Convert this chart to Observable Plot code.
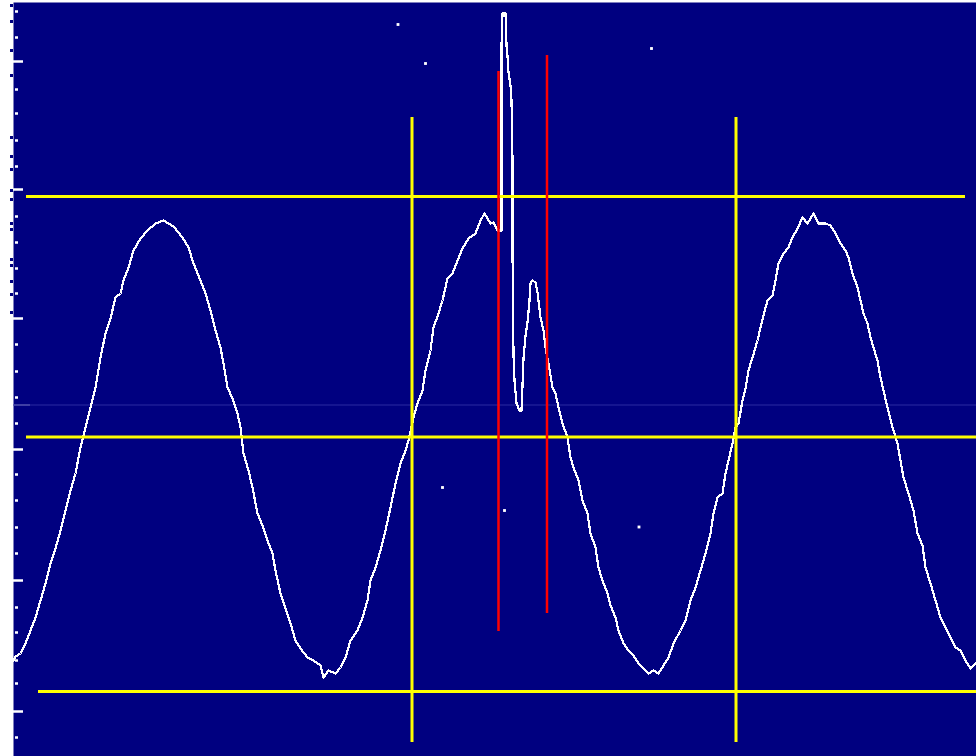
<!DOCTYPE html>
<html>
<head>
<meta charset="utf-8">
<script src="https://cdn.jsdelivr.net/npm/d3@7"></script>
<script src="https://cdn.jsdelivr.net/npm/@observablehq/plot@0.6"></script>
<style>
  html, body { margin: 0; padding: 0; background: #ffffff; }
  #chart svg { display: block; }
</style>
</head>
<body>
<div id="chart"></div>
<script>
// Signal trace: sample index (t) and amplitude (v)
const sampleT = [0,2,7,12,17,22,27,32,37,42,47,52,57,62,67,72,77,82,87,92,97,102,107,110,115,120,127,134,142,150,160,169,175,180,187,192,197,202,207,210,214,219,224,227,230,235,239,244,249,254,259,262,267,272,277,282,287,294,300,307,310,315,322,327,332,337,344,349,354,357,362,367,372,377,382,387,392,395,400,404,409,412,417,420,425,429,434,439,444,449,455,462,467,471,474,477,480,484,488,488,489,492,493,494,495,497,498,499,499,500,501,503,506,508,509,510,512,514,516,517,519,522,524,527,530,532,535,539,542,545,549,554,557,560,565,569,574,577,582,585,589,594,597,602,605,610,615,620,625,630,635,640,645,650,655,660,667,672,677,682,687,692,697,700,704,709,712,715,719,722,725,729,732,735,739,744,747,750,754,759,762,765,770,775,779,784,789,794,800,805,812,817,822,827,832,835,839,844,847,850,854,857,860,864,867,870,874,879,884,887,890,895,900,904,909,912,917,922,927,932,937,942,947,952,957,962];
const sampleV = [-213,-209,-206,-196,-183,-170,-153,-136,-116,-101,-83,-63,-43,-26,0,20,40,60,90,114,129,150,154,167,180,197,209,217,224,227,221,210,200,184,167,154,137,117,100,84,60,49,34,20,-6,-23,-40,-66,-78,-93,-106,-123,-146,-161,-176,-193,-201,-210,-213,-218,-230,-223,-226,-220,-210,-193,-183,-170,-153,-133,-120,-103,-83,-60,-36,-16,-3,7,30,44,57,77,97,120,134,147,169,174,187,199,209,214,227,234,229,224,225,217,217,402,434,434,402,392,375,362,347,287,197,92,67,44,37,37,62,89,112,125,147,164,167,165,155,130,117,100,84,60,54,40,24,10,-10,-20,-33,-53,-66,-86,-100,-120,-133,-146,-158,-170,-183,-196,-203,-208,-216,-221,-226,-223,-226,-218,-210,-196,-183,-173,-153,-140,-123,-106,-86,-66,-50,-46,-26,-13,4,20,24,47,59,77,90,107,120,132,147,152,167,184,194,200,210,219,230,224,234,224,224,222,214,204,197,190,174,160,147,134,124,110,100,87,70,57,40,20,4,-13,-30,-46,-63,-86,-98,-120,-136,-153,-170,-180,-190,-200,-203,-213,-221,-216];

// Isolated stray samples
const strayT = [384.5, 412, 638, 429, 491, 625.5];
const strayV = [423, 384, 399, -40, -63, -79.5];

// Yellow horizontal levels
const levelV = [251, 10.5, -244];
const levelStart = [13, 13, 25];
const levelEnd = [952, 963, 963];

// Yellow vertical cursors
const cursorT = [398.5, 722.5];
const cursorTop = [330, 330];
const cursorBottom = [-295, -295];

// Red markers
const markerT = [485, 533.5];
const markerTop = [376, 392];
const markerBottom = [-184, -166];

// Baseline (faint)
const baselineV = [42.5];

// Left graticule ticks
const tickV = [436,410,386,358,334,307,281,258,231,205,179,154,129,103,76,50,24,-2,-27,-53,-80,-106,-133,-160,-185,-213,-236,-264,-290];
const tickMajor = [0,0,1,0,0,0,0,1,0,0,0,0,1,0,0,0,0,1,0,0,0,0,1,0,0,0,0,1,0];

// Notches in the left border
const notchV = [442,426,397,372,310,291,278,257,248,224,218,188,182,166,153,135];

const trace = sampleT.map((t, i) => ({t, v: sampleV[i]}));
const strays = strayT.map((t, i) => ({t, v: strayV[i]}));
const levels = levelV.map((v, i) => ({v, x1: levelStart[i], x2: levelEnd[i]}));
const cursors = cursorT.map((t, i) => ({t, y1: cursorTop[i], y2: cursorBottom[i]}));
const markers = markerT.map((t, i) => ({t, y1: markerTop[i], y2: markerBottom[i]}));
const ticks = tickV.map((v, i) => ({v, major: tickMajor[i]}));

const chart = Plot.plot({
  width: 976,
  height: 756,
  marginLeft: 13,
  marginTop: 2,
  marginRight: 0,
  marginBottom: 0,
  x: {domain: [0, 963], axis: null},
  y: {domain: [-309, 445], axis: null},
  marks: [
    Plot.frame({fill: "#000080", stroke: null}),
    Plot.ruleY(notchV, {y: d => d, x1: -3, x2: 0, stroke: "#000080", strokeWidth: 3}),
    Plot.ruleY(baselineV, {y: d => d, stroke: "#2a2aa0", strokeWidth: 1}),
    Plot.ruleY(baselineV, {y: d => d, x1: 0, x2: 17, stroke: "#6a6ab8", strokeWidth: 1}),
    Plot.ruleY(ticks, {y: "v", x1: d => d.major ? 0 : 2, x2: d => d.major ? 10 : 5, stroke: "#ffffff", strokeWidth: 2.5}),
    Plot.line(trace, {x: "t", y: "v", stroke: "#ffffff", strokeWidth: 2.2, curve: "linear", shapeRendering: "crispEdges"}),
    Plot.dot(strays, {x: "t", y: "v", symbol: "square", r: 1.6, fill: "#ffffff", stroke: null}),
    Plot.ruleY(levels, {y: "v", x1: "x1", x2: "x2", stroke: "#ffff00", strokeWidth: 3}),
    Plot.ruleX(cursors, {x: "t", y1: "y1", y2: "y2", stroke: "#ffff00", strokeWidth: 3}),
    Plot.ruleX(markers, {x: "t", y1: "y1", y2: "y2", stroke: "#ff0000", strokeWidth: 2.5})
  ]
});
document.getElementById("chart").appendChild(chart);
</script>
</body>
</html>
